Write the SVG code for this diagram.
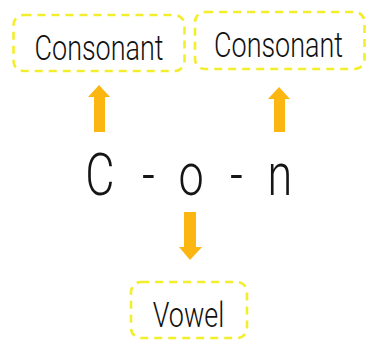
<svg xmlns="http://www.w3.org/2000/svg" width="367" height="342" viewBox="0 0 367 342">
<style>
.box{fill:none;stroke:#f3ee2c;stroke-width:2.6;stroke-dasharray:8 6;stroke-linecap:butt}
.lbl{font-family:Roboto,"Liberation Sans",sans-serif;font-size:35px;font-weight:300;fill:#111111;text-anchor:middle}
.arrow{fill:#fbb612}
.word{font-family:Roboto,"Liberation Sans",sans-serif;font-size:60px;font-weight:300;fill:#151515}
</style>
<rect width="367" height="342" fill="#ffffff"/>
<g id="consonant-1">
<rect class="box" x="13.5" y="15" width="171" height="56" rx="10"/>
<text class="lbl" transform="translate(99,60) scale(0.77,1)" x="0" y="0">Consonant</text>
</g>
<g id="consonant-2">
<rect class="box" x="195" y="12" width="169.5" height="57" rx="10"/>
<text class="lbl" transform="translate(278.5,57) scale(0.77,1)" x="0" y="0">Consonant</text>
</g>
<g id="word">
<text class="word" transform="scale(0.75,1)" text-anchor="middle" y="195" x="133.3 165 198 230 254.7 285 315.3 345 373.3">C - o - n</text>
</g>
<g id="vowel">
<rect class="box" x="131" y="282" width="116" height="56" rx="10"/>
<text class="lbl" transform="translate(188.5,327) scale(0.77,1)" x="0" y="0">Vowel</text>
</g>
<g id="connectors">
<polygon class="arrow" points="99,85 110,97 105,97 105,132 94,132 94,97 88,97"/>
<polygon class="arrow" points="279,87 290,99 285,99 285,132 274,132 274,99 268,99"/>
<polygon class="arrow" points="184,212 196,212 196,247 202,247 190,260 179,247 184,247"/>
</g>
</svg>
